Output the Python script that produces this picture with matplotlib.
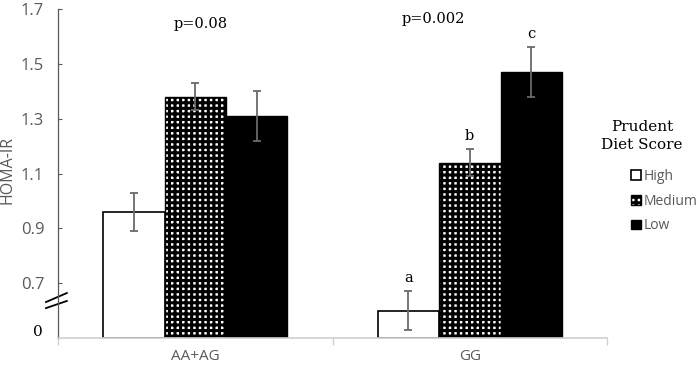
import numpy as np
import matplotlib.pyplot as plt
import matplotlib.transforms as mtransforms
from matplotlib.lines import Line2D

# data (axis is broken: baseline labelled "0" sits at 0.5)
groups = ["AA+AG", "GG"]
levels = ["High", "Medium", "Low"]
high = [0.96, 0.60]
medium = [1.38, 1.14]
low = [1.31, 1.47]
high_err = [0.07, 0.07]
medium_err = [0.05, 0.05]
low_err = [0.09, 0.09]
yticks = [0.7, 0.9, 1.1, 1.3, 1.5, 1.7]
p_labels = ["p=0.08", "p=0.002"]
gg_letters = ["a", "b", "c"]

plt.rcParams["hatch.linewidth"] = 2.2
sans = ["Open Sans", "DejaVu Sans"]
serif = "DejaVu Serif"
grey = "#595959"

fig = plt.figure(figsize=(6.99, 3.66), dpi=100)
ax = fig.add_axes([0.083, 0.0765, 0.7854, 0.8989])

x = np.arange(len(groups))
w = 0.224
ymin = 0.5
errkw = dict(ecolor="#6a6a6a", elinewidth=1.3, capsize=3, capthick=1.3)

b1 = ax.bar(x - w, np.array(high) - ymin, w, bottom=ymin, color="white",
            edgecolor="black", linewidth=1.2, yerr=high_err, error_kw=errkw, label="High")
b2 = ax.bar(x, np.array(medium) - ymin, w, bottom=ymin, color="white",
            edgecolor="black", linewidth=1.0, hatch="+++", yerr=medium_err,
            error_kw=errkw, label="Medium")
b3 = ax.bar(x + w, np.array(low) - ymin, w, bottom=ymin, color="black",
            edgecolor="black", linewidth=1.0, yerr=low_err, error_kw=errkw, label="Low")

ax.set_xlim(-0.5, 1.5)
ax.set_ylim(ymin, 1.7)
ax.set_yticks(yticks)
ax.set_yticklabels([f"{v:.1f}" for v in yticks], fontfamily=sans, fontsize=12, color=grey)
ax.tick_params(axis="y", direction="in", length=3, width=0.8, color=grey, pad=10)

ax.set_xticks(x)
ax.set_xticklabels(groups, fontfamily=sans, fontsize=11, color=grey)
ax.set_xticks([-0.5, 0.5, 1.5], minor=True)
ax.tick_params(axis="x", which="major", length=0, pad=8)
ax.tick_params(axis="x", which="minor", direction="out", length=5, color="#d0d0d0", width=1)

for s in ["top", "right"]:
    ax.spines[s].set_visible(False)
ax.spines["left"].set_color(grey)
ax.spines["left"].set_linewidth(0.9)
ax.spines["bottom"].set_color("#d0d0d0")
ax.spines["bottom"].set_linewidth(1.2)

# baseline label and axis break marks
trans = mtransforms.blended_transform_factory(ax.transAxes, ax.transData)
ax.text(-0.027, 0.522, "0", transform=trans, ha="right", va="center",
        fontfamily=serif, fontsize=11, color="black")
ax.add_line(Line2D([-0.022, 0.016], [0.631, 0.664], transform=trans,
                   color="black", lw=1.3, clip_on=False))
ax.add_line(Line2D([-0.022, 0.016], [0.609, 0.635], transform=trans,
                   color="black", lw=1.3, clip_on=False))

# p-values
ax.text(0.018, 1.645, p_labels[0], ha="center", va="center", fontfamily=serif, fontsize=10.5)
ax.text(0.869, 1.664, p_labels[1], ha="center", va="center", fontfamily=serif, fontsize=10.5)

# significance letters over GG bars
gg_vals = [high[1], medium[1], low[1]]
gg_errs = [high_err[1], medium_err[1], low_err[1]]
for k, (lt, v, e) in enumerate(zip(gg_letters, gg_vals, gg_errs)):
    ax.text(1 + (k - 1) * w, v + e + 0.048, lt, ha="center", va="center",
            fontfamily=serif, fontsize=10.5)

fig.text(8 / 699, 1 - 170 / 366, "HOMA-IR", rotation=90, ha="center", va="center",
         fontfamily=sans, fontsize=11.5, color=grey)

# legend
fig.text(642 / 699, 1 - 136 / 366, "Prudent\nDiet Score", ha="center", va="center",
         fontfamily=serif, fontsize=11, linespacing=1.3)
leg = ax.legend(handles=[b1, b2, b3], labels=levels, loc="upper left",
                bbox_to_anchor=(624 / 699, 1 - 162 / 366), bbox_transform=fig.transFigure,
                frameon=False, handlelength=0.7, handleheight=0.7, handletextpad=0.2,
                labelspacing=0.7, borderpad=0, prop={"family": sans, "size": 10})
for t in leg.get_texts():
    t.set_color(grey)

fig.savefig("out.png", dpi=100)
